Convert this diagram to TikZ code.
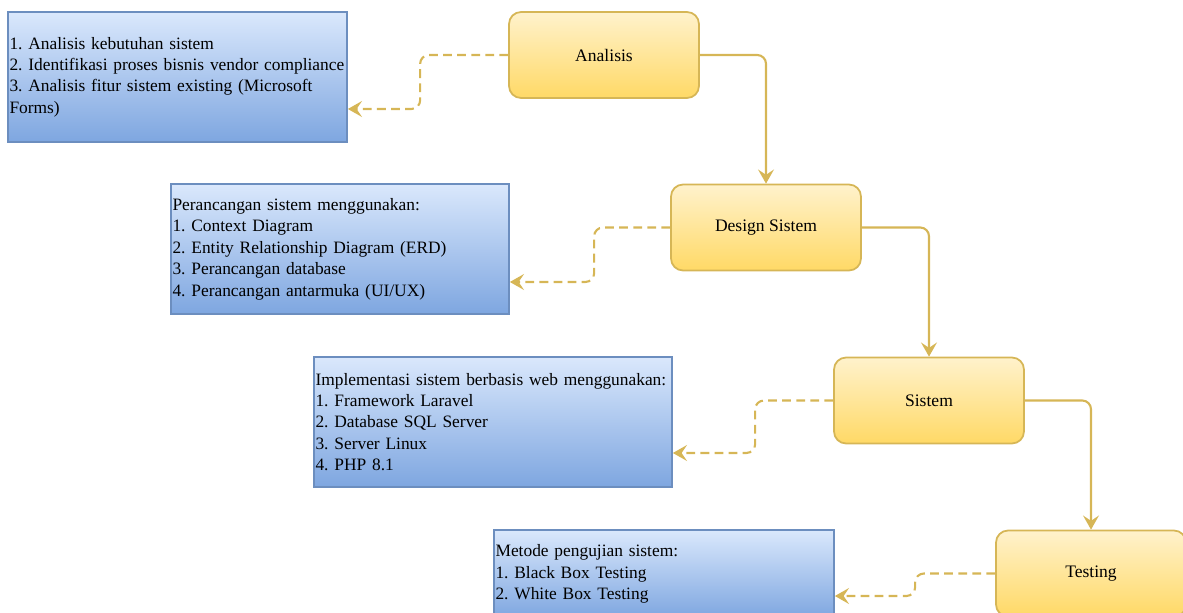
\documentclass[tikz,border=0pt]{standalone}
\usepackage{fontspec}
\setmainfont{Liberation Serif}
\usetikzlibrary{arrows.meta, positioning}
\definecolor{kuningAtas}{HTML}{FFF2CC}
\definecolor{kuningBawah}{HTML}{FFD966}
\definecolor{garisKuning}{HTML}{D6B656}
\definecolor{biruAtas}{HTML}{DAE8FC}
\definecolor{biruBawah}{HTML}{7EA6E0}
\definecolor{garisBiru}{HTML}{6C8EBF}
\newcommand{\hurufKet}{\fontsize{9.9}{12.2}\selectfont\frenchspacing\hyphenpenalty=10000\relax}

\begin{document}
\begin{tikzpicture}[x=0.02cm, y=-0.02cm,
		>={Stealth[length=8pt, width=9pt, inset=3pt]},
		tahap/.style={rectangle, rounded corners=0.24cm, draw=garisKuning, line width=1pt,
			top color=kuningAtas, bottom color=kuningBawah,
			minimum width=3.8cm, minimum height=1.72cm, font=\fontsize{10}{12}\selectfont},
		ket/.style={rectangle, draw=garisBiru, line width=1pt,
			top color=biruAtas, bottom color=biruBawah, align=left,
			inner xsep=0.03cm, minimum height=2.6cm, font=\hurufKet},
		alur/.style={->, draw=garisKuning, line width=1.2pt, rounded corners=5pt},
		saran/.style={alur, dash pattern=on 5pt off 3pt}]
	
	\clip (0,0) rectangle (1183,612);
	
	% Tahapan utama
	\node[tahap] (ana) at (604,55) {Analisis};
	\node[tahap] (des) at (766,227.5) {Design Sistem};
	\node[tahap] (sis) at (929,400.5) {Sistem};
	\node[tahap] (tes) at (1091,573.5) {Testing};
	
	% Keterangan tiap tahap
	\node[ket, text width=6.72cm] (k1) at (177.5,77) {1. Analisis kebutuhan sistem\\
		2. Identifikasi proses bisnis vendor compliance\\
		3. Analisis fitur sistem existing (Microsoft\\
		Forms)};
	\node[ket, text width=6.70cm] (k2) at (340,249) {Perancangan sistem menggunakan:\\
		1. Context Diagram\\
		2. Entity Relationship Diagram (ERD)\\
		3. Perancangan database\\
		4. Perancangan antarmuka (UI/UX)};
	\node[ket, text width=7.10cm] (k3) at (493,422) {Implementasi sistem berbasis web menggunakan:\\
		1. Framework Laravel\\
		2. Database SQL Server\\
		3. Server Linux\\
		4. PHP 8.1};
	\node[ket, text width=6.74cm, minimum height=1.76cm] (k4) at (664,574) {Metode pengujian sistem:\\
		1. Black Box Testing\\
		2. White Box Testing};
	
	% Alur antar tahap
	\draw[alur] (ana.east) -| (des.north);
	\draw[alur] (des.east) -| (sis.north);
	\draw[alur] (sis.east) -| (tes.north);
	
	% Panah ke keterangan
	\draw[saran] (ana.west) -- ++(-88,0) |- ([yshift=-0.64cm]k1.east);
	\draw[saran] (des.west) -- ++(-76,0) |- ([yshift=-0.66cm]k2.east);
	\draw[saran] (sis.west) -- ++(-78,0) |- ([yshift=-0.62cm]k3.east);
	\draw[saran] (tes.west) -- ++(-80,0) |- ([yshift=-0.44cm]k4.east);
	
\end{tikzpicture}
\end{document}
